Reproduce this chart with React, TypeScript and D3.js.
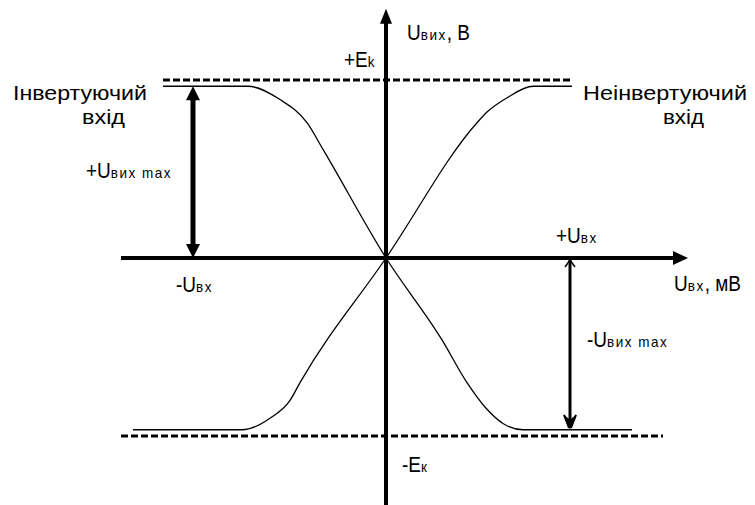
import React from "react";
import * as d3 from "d3";

// ---- data (x in mV-like units, y in fractions of Ek) ----
const INVERTING: [number, number][] = [
  [-22.3, 0.965], [-13.8, 0.965], [-10.6, 0.89], [-7.9, 0.76], [-6.3, 0.61], [0, 0],
  [5.6, -0.46], [8.1, -0.7], [10.1, -0.85], [11.7, -0.93], [13.7, -0.965], [24.6, -0.965],
];
const NON_INVERTING: [number, number][] = [
  [-25.3, -0.965], [-14.4, -0.965], [-11.6, -0.9], [-9.6, -0.8], [-8.6, -0.7], [0, 0],
  [9.1, 0.76], [10.1, 0.82], [12.1, 0.9], [14.7, 0.965], [18.6, 0.965],
];
const SUPPLY_TOP: [number, number][] = [[-22.3, 1], [18.6, 1]];
const SUPPLY_BOTTOM: [number, number][] = [[-26.5, -1], [27.7, -1]];
const AXIS_X = [-26.5, 30.2];
const AXIS_Y = [-1.45, 1.4];
const AMP_POS = { x: -19.3, y: 0.965 };
const AMP_NEG = { x: 18.4, y: -0.965 };

const xScale = d3.scaleLinear().domain([-27, 31]).range([116, 696]);
const yScale = d3.scaleLinear().domain([-1, 1]).range([436, 80]);

const line = d3
  .line<[number, number]>()
  .x((d) => xScale(d[0]))
  .y((d) => yScale(d[1]))
  .curve(d3.curveMonotoneX);
const straight = d3
  .line<[number, number]>()
  .x((d) => xScale(d[0]))
  .y((d) => yScale(d[1]));

const FONT = "'Liberation Sans', Arial, sans-serif";

function Label({ x, y, main, sub, tail, size = 19, subSize = 13.5, sy = 1.15 }: any) {
  return (
    <g transform={`translate(${x},${y}) scale(1,${sy})`}>
      <text x={0} y={0} fontFamily={FONT} fontSize={size} fill="#000">
        <tspan>{main}</tspan>
        {sub && (
          <tspan fontSize={subSize} letterSpacing={1.5}>
            {sub}
          </tspan>
        )}
        {tail && <tspan>{tail}</tspan>}
      </text>
    </g>
  );
}

function Title({ x, y, text, len }: any) {
  return (
    <text
      x={x}
      y={y}
      fontFamily={FONT}
      fontSize={21}
      fill="#000"
      textLength={len}
      lengthAdjust="spacingAndGlyphs"
    >
      {text}
    </text>
  );
}

export default function App() {
  const x0 = xScale(0);
  const y0 = yScale(0);
  const xL = xScale(AXIS_X[0]);
  const xR = xScale(AXIS_X[1]);
  const yT = yScale(AXIS_Y[1]);
  const yB = yScale(AXIS_Y[0]);

  const ax = xScale(AMP_POS.x);
  const ayTop = yScale(AMP_POS.y);
  const bx = xScale(AMP_NEG.x);
  const byBot = yScale(AMP_NEG.y);

  return (
    <svg
      width={755}
      height={505}
      style={{ position: "fixed", left: 0, top: 0, background: "#fff" }}
    >
      <rect width={755} height={505} fill="#fff" />
      {/* supply dashed lines */}
      <path d={straight(SUPPLY_TOP)!} stroke="#000" strokeWidth={3} strokeDasharray="7,3" fill="none" />
      <path d={straight(SUPPLY_BOTTOM)!} stroke="#000" strokeWidth={3} strokeDasharray="7,3" fill="none" />

      {/* axes */}
      <line x1={xL} y1={y0} x2={xR - 12} y2={y0} stroke="#000" strokeWidth={4} />
      <path d={`M${xR},${y0} L${xR - 15},${y0 - 7} L${xR - 15},${y0 + 7} Z`} fill="#000" />
      <line x1={x0} y1={yB} x2={x0} y2={yT + 12} stroke="#000" strokeWidth={4} />
      <path d={`M${x0},${yT} L${x0 - 6},${yT + 15} L${x0 + 6},${yT + 15} Z`} fill="#000" />

      {/* transfer curves */}
      <path d={line(INVERTING)!} stroke="#000" strokeWidth={1.3} fill="none" />
      <path d={line(NON_INVERTING)!} stroke="#000" strokeWidth={1.3} fill="none" />

      {/* +Uвих max double arrow */}
      <line x1={ax} y1={ayTop + 8} x2={ax} y2={y0 - 8} stroke="#000" strokeWidth={5} />
      <path d={`M${ax},${ayTop} L${ax - 7},${ayTop + 14} L${ax + 7},${ayTop + 14} Z`} fill="#000" />
      <path d={`M${ax},${y0} L${ax - 7},${y0 - 14} L${ax + 7},${y0 - 14} Z`} fill="#000" />

      {/* -Uвих max arrow */}
      <line x1={bx} y1={y0 + 1} x2={bx} y2={byBot - 6} stroke="#000" strokeWidth={3} />
      <polyline
        points={`${bx - 5},${y0 + 9} ${bx},${y0 + 2} ${bx + 5},${y0 + 9}`}
        stroke="#000"
        strokeWidth={1.5}
        fill="none"
      />
      <path d={`M${bx},${byBot} L${bx - 6},${byBot - 15} L${bx},${byBot - 10} L${bx + 6},${byBot - 15} Z`} fill="#000" />
      <line x1={bx - 6} y1={byBot - 15} x2={bx - 1} y2={byBot - 2} stroke="#000" strokeWidth={2} />
      <line x1={bx + 6} y1={byBot - 15} x2={bx + 1} y2={byBot - 2} stroke="#000" strokeWidth={2} />

      {/* texts */}
      <Title x={13} y={100} text="Інвертуючий" len={134} />
      <Title x={82} y={124} text="вхід" len={43} />
      <Title x={583} y={100} text="Неінвертуючий" len={164} />
      <Title x={663} y={124} text="вхід" len={41} />

      <Label x={407} y={40} main="U" sub="вих" tail=", В" />
      <Label x={344} y={67} main="+E" sub="k" />
      <Label x={86} y={178} main="+U" sub="вих max" />
      <Label x={176} y={292} main="-U" sub="вх" />
      <Label x={556} y={243} main="+U" sub="вх" />
      <Label x={674} y={291} main="U" sub="вх" tail=", мВ" />
      <Label x={587} y={347} main="-U" sub="вих max" />
      <Label x={402} y={472} main="-E" sub="к" />
    </svg>
  );
}
